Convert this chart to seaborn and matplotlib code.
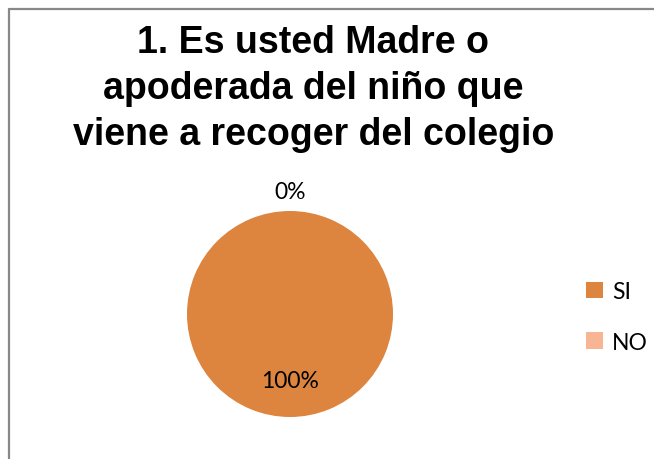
import numpy as np
import matplotlib.pyplot as plt
import seaborn as sns
from matplotlib.lines import Line2D
from matplotlib.patches import Patch

# datos de la pregunta 1
categorias = ['SI', 'NO']
valores = [100, 0]
etiquetas = ['100%', '0%']
titulo = '1. Es usted Madre o\napoderada del niño que\nviene a recoger del colegio'

sns.set_theme(style='white')
colores = sns.color_palette(['#DD843F', '#F8B593'])
plt.rcParams['font.family'] = ['Lato', 'DejaVu Sans']

fig = plt.figure(figsize=(6.54, 4.60), dpi=100)
ax = fig.add_axes([187/654, 42/460, 206/654, 206/460])

wedges, _ = ax.pie(valores, colors=colores, startangle=90, counterclock=False,
                   radius=1, wedgeprops=dict(linewidth=0))
ax.set_xlim(-1, 1)
ax.set_ylim(-1, 1)
ax.set_aspect('equal')

# etiquetas: dentro para la porción grande, fuera para 0%
for w, lab, v in zip(wedges, etiquetas, valores):
    ang = np.deg2rad((w.theta1 + w.theta2) / 2)
    d = 0.65 if v > 0 else 1.19
    ax.text(d*np.cos(ang), d*np.sin(ang), lab, ha='center', va='center',
            fontsize=16.5, color='black')

fig.text(0.479, 1 - 25/460, titulo, ha='center', va='top', fontsize=27,
         fontweight='bold', family=['Liberation Sans', 'DejaVu Sans'],
         linespacing=1.36, color='black')

handles = [Patch(facecolor=c, edgecolor='none') for c in colores]
fig.legend(handles, categorias, loc='center left', bbox_to_anchor=(0.864, 0.309),
           frameon=False, fontsize=16.5, handlelength=0.75, handleheight=0.75,
           handletextpad=0.4, labelspacing=1.3, labelcolor='black')

# borde del gráfico
fig.add_artist(Line2D([9/654, 9/654], [0, 1 - 10/460], color='#888888', lw=1.6,
                      transform=fig.transFigure))
fig.add_artist(Line2D([9/654, 1], [1 - 10/460, 1 - 10/460], color='#888888', lw=1.6,
                      transform=fig.transFigure))

fig.savefig('out.png', dpi=100)
